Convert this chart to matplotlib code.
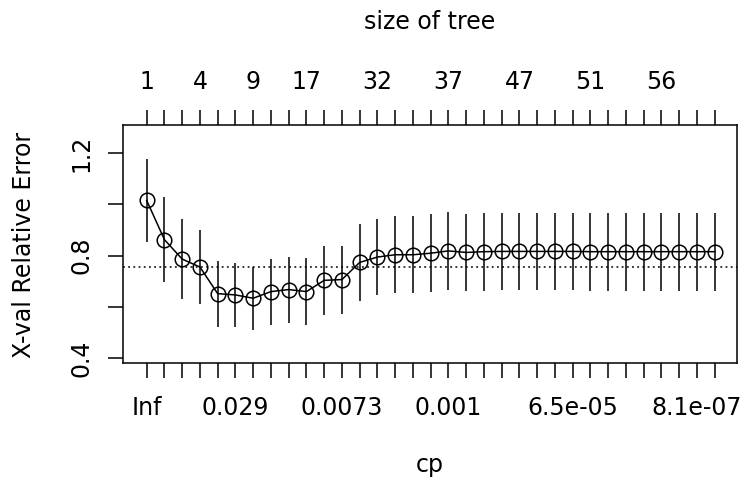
import numpy as np
import matplotlib
matplotlib.use("Agg")
from matplotlib import pyplot as plt

# cross-validated relative error and its std error, one per cp step
xerror = [1.015, 0.862, 0.786, 0.755, 0.651, 0.646, 0.633, 0.659, 0.667, 0.659,
          0.703, 0.706, 0.773, 0.794, 0.803, 0.803, 0.809, 0.818, 0.812, 0.815,
          0.816, 0.816, 0.816, 0.816, 0.816, 0.815, 0.815, 0.815, 0.815, 0.815,
          0.815, 0.815, 0.815]
xstd = [0.161, 0.166, 0.156, 0.145, 0.129, 0.126, 0.124, 0.129, 0.129, 0.130,
        0.134, 0.133, 0.149, 0.150, 0.151, 0.151, 0.152, 0.152, 0.152, 0.152,
        0.152, 0.152, 0.152, 0.152, 0.152, 0.152, 0.152, 0.152, 0.152, 0.152,
        0.152, 0.152, 0.152]

# labels that R kept after dropping overlapping ones
cp_labels = {1: "Inf", 6: "0.029", 12: "0.0073", 18: "0.001", 25: "6.5e-05", 32: "8.1e-07"}
size_labels = {1: "1", 4: "4", 7: "9", 10: "17", 14: "32", 18: "37", 22: "47", 26: "51", 30: "56"}

n = len(xerror)
x = np.arange(1, n + 1)
threshold = min(xerror) + xstd[int(np.argmin(xerror))]

fs = 17
lw = 1.1
fig = plt.figure(figsize=(7.45, 4.78), dpi=100)
ax = fig.add_axes([123 / 745, 1 - 363 / 478, (737 - 123) / 745, (363 - 125) / 478])

lo = np.array(xerror) - np.array(xstd)
hi = np.array(xerror) + np.array(xstd)
ax.vlines(x, lo, hi, color="black", lw=lw)
ax.plot(x, xerror, color="black", lw=lw, marker="o", markersize=10.5,
        markerfacecolor="none", markeredgewidth=lw)
ax.axhline(threshold, color="black", lw=lw, linestyle=(0, (1.2, 2.2)))

ax.set_xlim(-0.335, 34.26)
ax.set_ylim(0.38, 1.31)
ax.set_yticks([0.4, 0.6, 0.8, 1.0, 1.2])
ax.set_yticklabels(["0.4", "", "0.8", "", "1.2"], rotation=90, va="center")
ax.set_xticks(x)
ax.set_xticklabels([cp_labels.get(i, "") for i in x])
ax.tick_params(axis="both", direction="out", length=10.5, width=lw, labelsize=fs,
               colors="black")
ax.tick_params(axis="x", pad=13)
ax.tick_params(axis="y", pad=11)
for s in ax.spines.values():
    s.set_linewidth(lw)

top = ax.twiny()
top.set_xlim(ax.get_xlim())
top.set_xticks(x)
top.set_xticklabels([size_labels.get(i, "") for i in x])
top.tick_params(axis="x", direction="out", length=10.5, width=lw, labelsize=fs, pad=12)
for s in top.spines.values():
    s.set_visible(False)

fig.text(430 / 745, 1 - 22 / 478, "size of tree", ha="center", va="center", fontsize=fs)
fig.text(430 / 745, 1 - 465 / 478, "cp", ha="center", va="center", fontsize=fs)
fig.text(24 / 745, 1 - 245 / 478, "X-val Relative Error", ha="center", va="center",
         rotation=90, fontsize=fs)

fig.savefig("out.png", dpi=100)
